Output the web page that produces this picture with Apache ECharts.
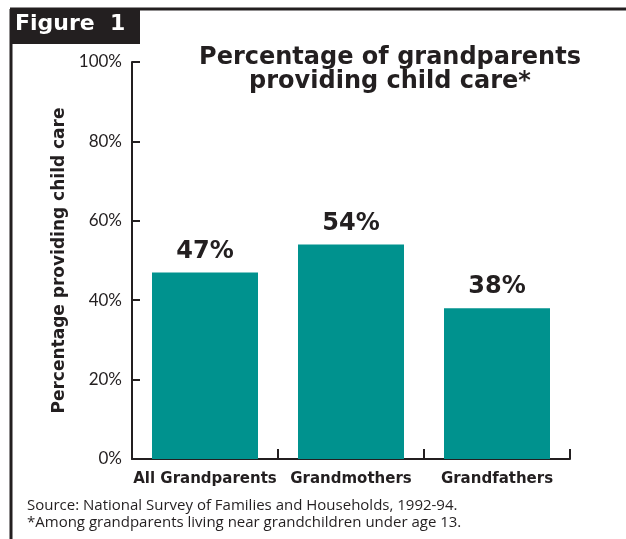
<!DOCTYPE html>
<html>
<head>
<meta charset="utf-8">
<script src="https://cdn.jsdelivr.net/npm/echarts@6/dist/echarts.min.js"></script>
<style>
  html, body { margin: 0; padding: 0; background: #fff; }
  #chart { width: 626px; height: 539px; }
</style>
</head>
<body>
<div id="chart"></div>
<script>
// Share of grandparents providing child care, by group
const categories = ['All Grandparents', 'Grandmothers', 'Grandfathers'];
const values = [47, 54, 38];
const yTicks = [0, 20, 40, 60, 80, 100];

const INK = '#231f20';
const TEAL = '#00928e';
const HEAVY = '"DejaVu Sans"';

const chart = echarts.init(document.getElementById('chart'), null, { renderer: 'canvas' });

chart.setOption({
  backgroundColor: '#ffffff',
  animation: false,
  title: {
    text: 'Percentage of grandparents\nproviding child care*',
    left: 385,
    top: 41,
    textAlign: 'center',
    textStyle: {
      fontFamily: HEAVY,
      fontWeight: 'bold',
      fontSize: 24,
      lineHeight: 24,
      color: INK
    }
  },
  grid: { left: 132, top: 62, width: 438, height: 397, containLabel: false },
  xAxis: {
    type: 'category',
    data: categories,
    boundaryGap: true,
    axisLine: { lineStyle: { color: INK, width: 2 } },
    axisTick: { show: true, inside: true, length: 10, alignWithLabel: false, lineStyle: { color: INK, width: 2 } },
    axisLabel: {
      interval: 0,
      margin: 13,
      fontFamily: HEAVY,
      fontWeight: 'bold',
      fontSize: 15,
      color: INK
    }
  },
  yAxis: {
    type: 'value',
    min: yTicks[0],
    max: yTicks[yTicks.length - 1],
    interval: 20,
    name: 'Percentage providing child care',
    nameLocation: 'middle',
    nameGap: 60,
    nameTextStyle: { fontFamily: HEAVY, fontWeight: 'bold', fontSize: 17, color: INK },
    axisLine: { show: true, lineStyle: { color: INK, width: 2 } },
    axisTick: { show: true, inside: true, length: 8, lineStyle: { color: INK, width: 2 } },
    splitLine: { show: false },
    axisLabel: {
      margin: 10,
      fontFamily: 'Lato',
      fontSize: 17,
      color: INK,
      formatter: v => v + '%'
    }
  },
  series: [{
    type: 'bar',
    data: values,
    barWidth: 106,
    itemStyle: { color: TEAL },
    label: {
      show: true,
      position: 'top',
      distance: 9,
      fontFamily: HEAVY,
      fontWeight: 'bold',
      fontSize: 24,
      color: INK,
      formatter: p => p.value + '%'
    }
  }],
  graphic: [
    // Outer frame: top rule and left rule
    { type: 'line', shape: { x1: 10, y1: 9, x2: 626, y2: 9 }, style: { stroke: INK, lineWidth: 3 } },
    { type: 'line', shape: { x1: 11, y1: 9, x2: 11, y2: 539 }, style: { stroke: INK, lineWidth: 3 } },
    // Figure tab
    { type: 'rect', shape: { x: 10, y: 8, width: 130, height: 36 }, style: { fill: INK } },
    {
      type: 'text', left: 15, top: 13,
      style: { text: 'Figure  1', fill: '#ffffff', font: 'bold 22px "DejaVu Sans"' }
    },
    // Source notes
    {
      type: 'text', left: 27, top: 497,
      style: {
        text: 'Source: National Survey of Families and Households, 1992-94.\n*Among grandparents living near grandchildren under age 13.',
        fill: INK, font: '15px "Open Sans"', lineHeight: 17
      }
    }
  ]
});
</script>
</body>
</html>
